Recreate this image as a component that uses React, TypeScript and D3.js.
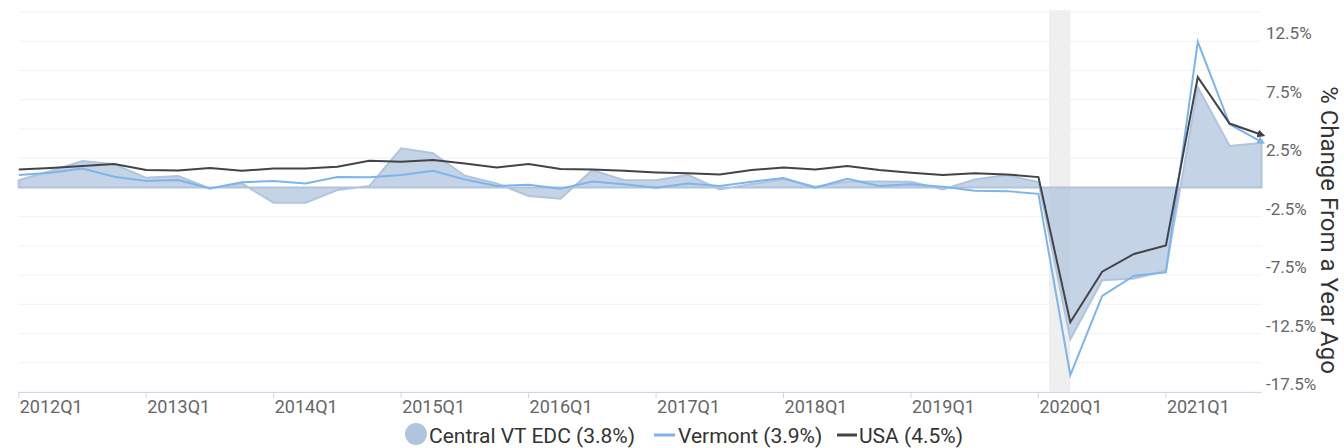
import React from "react";
import * as d3 from "d3";

const quarters = [
  "2012Q1", "2012Q2", "2012Q3", "2012Q4", "2013Q1", "2013Q2", "2013Q3", "2013Q4",
  "2014Q1", "2014Q2", "2014Q3", "2014Q4", "2015Q1", "2015Q2", "2015Q3", "2015Q4",
  "2016Q1", "2016Q2", "2016Q3", "2016Q4", "2017Q1", "2017Q2", "2017Q3", "2017Q4",
  "2018Q1", "2018Q2", "2018Q3", "2018Q4", "2019Q1", "2019Q2", "2019Q3", "2019Q4",
  "2020Q1", "2020Q2", "2020Q3", "2020Q4", "2021Q1", "2021Q2", "2021Q3", "2021Q4",
];

const centralVT = [
  0.62, 1.4, 2.25, 1.97, 0.82, 0.97, -0.09, 0.34, -1.32, -1.32,
  -0.23, 0.11, 3.34, 2.93, 1.0, 0.34, -0.74, -0.97, 1.48, 0.62,
  0.62, 1.08, -0.17, 0.28, 0.71, 0.05, 0.5, 0.51, 0.48, -0.17,
  0.68, 1.05, 0.45, -13.0, -7.94, -7.79, -7.12, 8.56, 3.54, 3.8,
];

const vermont = [
  1.05, 1.25, 1.62, 0.91, 0.54, 0.63, -0.09, 0.43, 0.54, 0.34,
  0.88, 0.86, 1.05, 1.42, 0.68, 0.11, 0.23, -0.12, 0.51, 0.26,
  -0.03, 0.34, 0.11, 0.48, 0.8, -0.03, 0.74, 0.11, 0.26, 0.05,
  -0.29, -0.32, -0.55, -16.05, -9.28, -7.56, -7.27, 12.45, 5.4, 3.9,
];

const usa = [
  1.54, 1.65, 1.82, 2.0, 1.48, 1.45, 1.65, 1.42, 1.62, 1.62,
  1.77, 2.28, 2.2, 2.34, 2.05, 1.71, 1.99, 1.57, 1.54, 1.42,
  1.28, 1.2, 1.11, 1.48, 1.71, 1.54, 1.82, 1.48, 1.25, 1.05,
  1.2, 1.11, 0.88, -11.53, -7.21, -5.69, -4.97, 9.43, 5.46, 4.5,
];

const xTickLabels = ["2012Q1", "2013Q1", "2014Q1", "2015Q1", "2016Q1", "2017Q1", "2018Q1", "2019Q1", "2020Q1", "2021Q1"];
const gridValues = [-17.5, -15, -12.5, -10, -7.5, -5, -2.5, 0, 2.5, 5, 7.5, 10, 12.5, 15];
const yTickLabels = [12.5, 7.5, 2.5, -2.5, -7.5, -12.5, -17.5];
// recession band, in quarter index units (Feb 2020 to Apr 2020)
const recession = [32.333, 33];

const W = 1344;
const H = 448;
const margin = { left: 18.75, right: 1261.5, top: 12, bottom: 392 };
const font = "Roboto, sans-serif";

export default function App() {
  const x = d3.scaleLinear().domain([0, quarters.length - 1]).range([margin.left, margin.right]);
  const y = d3.scaleLinear().domain([-17.5, 15]).range([margin.bottom, margin.top]);

  const line = d3.line<number>().x((d, i) => x(i)).y((d) => y(d));
  const area = d3.area<number>().x((d, i) => x(i)).y0(y(0)).y1((d) => y(d));

  return (
    <svg width={W} height={H} style={{ position: "absolute", left: 0, top: 0 }} fontFamily={font}>
      <defs>
        <marker id="arrBlack" viewBox="0 0 10 10" refX="5" refY="5" markerWidth="4" markerHeight="4" orient="auto">
          <path d="M0,0 L10,5 L0,10 z" fill="#434348" />
        </marker>
        <marker id="arrBlue" viewBox="0 0 10 10" refX="5" refY="5" markerWidth="4" markerHeight="4" orient="auto">
          <path d="M0,0 L10,5 L0,10 z" fill="#7cb5ec" />
        </marker>
      </defs>
      <rect x={x(recession[0])} y={10} width={x(recession[1]) - x(recession[0])} height={margin.bottom - 10} fill="#efefef" />
      {gridValues.map((g) => (
        <line key={g} x1={margin.left} x2={margin.right} y1={y(g)} y2={y(g)} stroke="#f2f2f2" strokeWidth={1} />
      ))}
      <path d={area(centralVT) || ""} fill="#b0c4de" fillOpacity={0.75} stroke="#b0c4de" strokeWidth={2} />
      <path d={line(vermont) || ""} fill="none" stroke="#7cb5ec" strokeWidth={2} markerEnd="url(#arrBlue)" />
      <path d={line(usa) || ""} fill="none" stroke="#434348" strokeWidth={2} markerEnd="url(#arrBlack)" />

      <line x1={margin.left} x2={margin.right} y1={margin.bottom + 0.5} y2={margin.bottom + 0.5} stroke="#ccd6eb" strokeWidth={1} />
      {xTickLabels.map((t) => {
        const tx = x(quarters.indexOf(t));
        return (
          <g key={t}>
            <line x1={tx} x2={tx} y1={margin.bottom} y2={margin.bottom + 6} stroke="#ccd6eb" />
            <text x={tx + 1} y={413} fontSize={18} fill="#666666">{t}</text>
          </g>
        );
      })}
      {yTickLabels.map((v) => (
        <text key={v} x={1266} y={y(v) - 2} fontSize={17} fill="#666666">{`${v}%`}</text>
      ))}
      <text transform="translate(1321,230) rotate(90)" textAnchor="middle" fontSize={24} fill="#333333">
        % Change From a Year Ago
      </text>

      <g fontSize={21} fill="#333333">
        <circle cx={416} cy={434} r={11} fill="#b0c4de" />
        <text x={429} y={443}>Central VT EDC (3.8%)</text>
        <line x1={654} x2={675} y1={435} y2={435} stroke="#7cb5ec" strokeWidth={3} />
        <text x={678} y={443}>Vermont (3.9%)</text>
        <line x1={837} x2={857} y1={435} y2={435} stroke="#434348" strokeWidth={3} />
        <text x={859} y={443}>USA (4.5%)</text>
      </g>
    </svg>
  );
}
